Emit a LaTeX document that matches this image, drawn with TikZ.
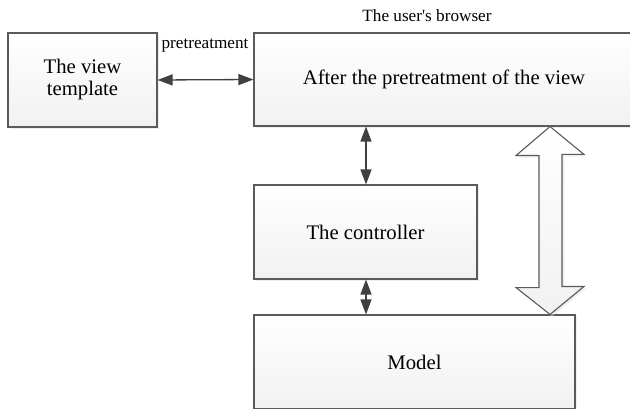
\documentclass[tikz,border=0pt]{standalone}
\usepackage{fontspec}
\setmainfont{Liberation Serif}
\usetikzlibrary{arrows.meta,shadows}
\definecolor{BoxLine}{HTML}{5A5A5A}
\definecolor{ArrowGray}{HTML}{404040}

\begin{document}
\begin{tikzpicture}[x=1pt,y=-1pt,line join=miter,
    blockbox/.style={draw=BoxLine,line width=1.1pt,top color=white,bottom color=gray!11,
      drop shadow={shadow xshift=2pt,shadow yshift=-2pt,fill=gray!25},
      inner sep=0pt,align=center,font=\fontsize{20.7}{22}\selectfont},
    linkarrow/.style={{Triangle[length=15pt,width=11pt]}-{Triangle[length=15pt,width=11pt]},
      ArrowGray,line width=1.3pt},
    smalllabel/.style={font=\fontsize{17.2}{19}\selectfont,inner sep=0pt}]
  \clip (0,0) rectangle (630,409);
  \fill[white] (0,0) rectangle (630,409);
  % boxes
  \node[blockbox,minimum width=149pt,minimum height=94pt] (view) at (82.5,80) {The view\\template};
  \node[blockbox,minimum width=380pt,minimum height=93pt] (after) at (444,79.5) {After the pretreatment of the view};
  \node[blockbox,minimum width=223pt,minimum height=94pt] (ctrl) at (365.5,232) {The controller};
  \node[blockbox,minimum width=321pt,minimum height=94pt] (model) at (414.5,362) {Model};
  % labels
  \node[smalllabel] (pre) at (205,45) {pretreatment};
  \node[smalllabel] (browser) at (427,16) {The user\textquotesingle s browser};
  % connectors
  \draw[linkarrow] (view.east) -- (after.west);
  \draw[linkarrow] (after.south -| 366,0) -- (ctrl.north -| 366,0);
  \draw[linkarrow] (ctrl.south -| 366,0) -- (model.north -| 366,0);
  % wide double arrow
  \coordinate (bigtop) at (after.south -| 550,0);
  \coordinate (bigbot) at (model.north -| 550,0);
  \draw[BoxLine,line width=1.1pt,top color=white,bottom color=gray!11,
    drop shadow={shadow xshift=2pt,shadow yshift=-2pt,fill=gray!25}]
    (bigtop) -- ++(-34,29) -- ++(23,0) -- ++(0,132) -- ++(-23,0) -- (bigbot)
    -- ++(34,-28) -- ++(-22,0) -- ++(0,-132) -- ++(22,0) -- cycle;
\end{tikzpicture}
\end{document}
